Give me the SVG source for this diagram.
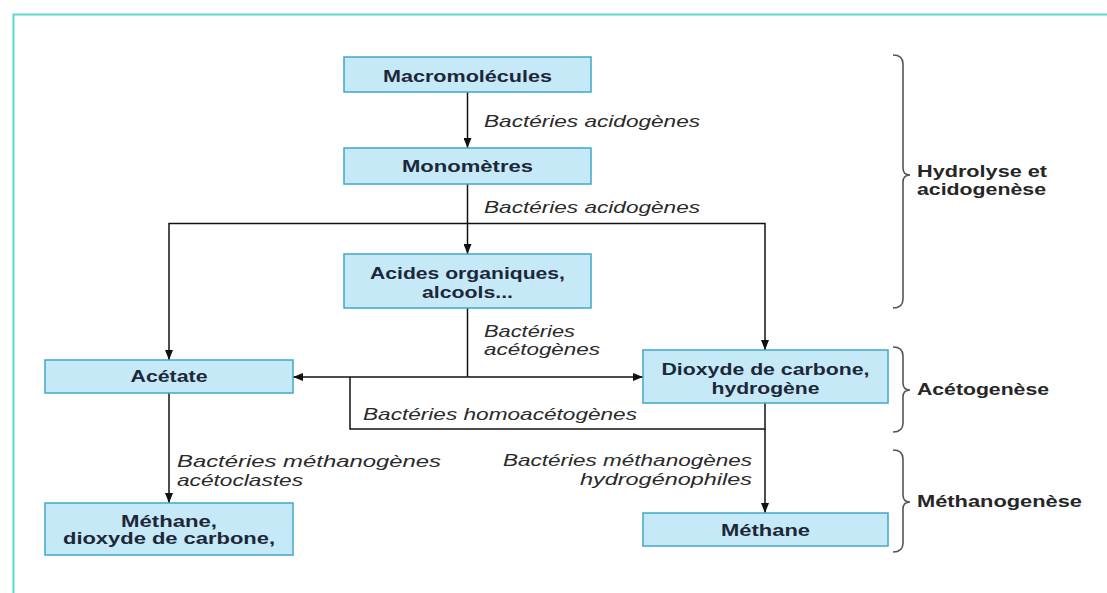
<svg xmlns="http://www.w3.org/2000/svg" width="1107" height="593" viewBox="0 0 1107 593">
  <style>
    .box { fill: #c6e9f8; stroke: #3fa8c8; stroke-width: 1.5; }
    .nt { font-family: "Liberation Sans", Arial, sans-serif; font-weight: bold; font-size: 17px; fill: #1c2838; text-anchor: middle; }
    .lb { font-family: "Liberation Sans", Arial, sans-serif; font-style: italic; font-size: 17px; fill: #2a2a2a; }
    .lbr { text-anchor: end; }
    .ph { font-family: "Liberation Sans", Arial, sans-serif; font-weight: bold; font-size: 16px; fill: #262626; }
    .wire { fill: none; stroke: #111; stroke-width: 1.5; }
    .arrow { marker-end: url(#head); }
    .brace { fill: none; stroke: #555; stroke-width: 1.6; }
  </style>
  <defs>
    <marker id="head" viewBox="0 0 10 8" refX="10" refY="4" markerWidth="10" markerHeight="8" markerUnits="userSpaceOnUse" orient="auto">
      <path d="M0,0 L10,4 L0,8 Z" fill="#111"/>
    </marker>
  </defs>

  <rect width="1107" height="593" fill="#ffffff"/>
  <!-- outer frame (top and left edges) -->
  <path d="M13.5,593 V14.5 H1107" fill="none" stroke="#5cd8d0" stroke-width="2"/>

  <!-- connectors -->
  <g id="connectors">
    <path class="wire arrow" d="M467.5,92 V148"/>
    <path class="wire arrow" d="M467.5,184 V254"/>
    <path class="wire arrow" d="M467.5,223.5 H169 V360"/>
    <path class="wire arrow" d="M467.5,223.5 H765 V350"/>
    <path class="wire" d="M467.5,308 V377"/>
    <path class="wire arrow" d="M467.5,377 H293"/>
    <path class="wire arrow" d="M467.5,377 H643"/>
    <path class="wire" d="M765,403 V429 H350 V377"/>
    <path class="wire arrow" d="M765,429 V513"/>
    <path class="wire arrow" d="M169,393 V503"/>

    <text class="lb" x="484" y="127" textLength="216" lengthAdjust="spacingAndGlyphs">Bactéries acidogènes</text>
    <text class="lb" x="484" y="213" textLength="216" lengthAdjust="spacingAndGlyphs">Bactéries acidogènes</text>
    <text class="lb" x="484" y="337" textLength="91" lengthAdjust="spacingAndGlyphs">Bactéries</text>
    <text class="lb" x="484" y="355" textLength="116" lengthAdjust="spacingAndGlyphs">acétogènes</text>
    <text class="lb" x="363" y="420" textLength="274" lengthAdjust="spacingAndGlyphs">Bactéries homoacétogènes</text>
    <text class="lb" x="177" y="467" textLength="264" lengthAdjust="spacingAndGlyphs">Bactéries méthanogènes</text>
    <text class="lb" x="177" y="486" textLength="126" lengthAdjust="spacingAndGlyphs">acétoclastes</text>
    <text class="lb lbr" x="752" y="466" textLength="249" lengthAdjust="spacingAndGlyphs">Bactéries méthanogènes</text>
    <text class="lb lbr" x="752" y="485" textLength="172" lengthAdjust="spacingAndGlyphs">hydrogénophiles</text>
  </g>

  <!-- nodes -->
  <g id="macromolecules">
    <rect class="box" x="344" y="57" width="247" height="35"/>
    <text class="nt" x="467.5" y="82" textLength="169" lengthAdjust="spacingAndGlyphs">Macromolécules</text>
  </g>
  <g id="monometres">
    <rect class="box" x="344" y="148" width="247" height="36"/>
    <text class="nt" x="467.5" y="172" textLength="131" lengthAdjust="spacingAndGlyphs">Monomètres</text>
  </g>
  <g id="acides">
    <rect class="box" x="344" y="254" width="247" height="54"/>
    <text class="nt" x="467.5" y="279" textLength="195" lengthAdjust="spacingAndGlyphs">Acides organiques,</text>
    <text class="nt" x="467.5" y="298" textLength="91" lengthAdjust="spacingAndGlyphs">alcools...</text>
  </g>
  <g id="acetate">
    <rect class="box" x="45" y="360" width="248" height="33"/>
    <text class="nt" x="169" y="382" textLength="77" lengthAdjust="spacingAndGlyphs">Acétate</text>
  </g>
  <g id="dioxyde">
    <rect class="box" x="643" y="350" width="245" height="53"/>
    <text class="nt" x="765.5" y="375" textLength="208" lengthAdjust="spacingAndGlyphs">Dioxyde de carbone,</text>
    <text class="nt" x="765.5" y="394" textLength="108" lengthAdjust="spacingAndGlyphs">hydrogène</text>
  </g>
  <g id="methane-co2">
    <rect class="box" x="45" y="503" width="248" height="52"/>
    <text class="nt" x="169" y="527" textLength="96" lengthAdjust="spacingAndGlyphs">Méthane,</text>
    <text class="nt" x="169" y="544" textLength="212" lengthAdjust="spacingAndGlyphs">dioxyde de carbone,</text>
  </g>
  <g id="methane">
    <rect class="box" x="643" y="513" width="245" height="33"/>
    <text class="nt" x="765.5" y="536" textLength="89" lengthAdjust="spacingAndGlyphs">Méthane</text>
  </g>

  <!-- phase braces -->
  <g id="phase-hydrolyse">
    <path class="brace" d="M893,55 Q903,55 903,64 V168 Q903,175 910,175 Q903,175 903,182 V299 Q903,308 893,308"/>
    <text class="ph" x="917" y="177" textLength="130" lengthAdjust="spacingAndGlyphs">Hydrolyse et</text>
    <text class="ph" x="917" y="195" textLength="129" lengthAdjust="spacingAndGlyphs">acidogenèse</text>
  </g>
  <g id="phase-acetogenese">
    <path class="brace" d="M893,347 Q903,347 903,356 V383 Q903,390 910,390 Q903,390 903,397 V423 Q903,432 893,432"/>
    <text class="ph" x="917" y="395" textLength="132" lengthAdjust="spacingAndGlyphs">Acétogenèse</text>
  </g>
  <g id="phase-methanogenese">
    <path class="brace" d="M893,450 Q903,450 903,459 V495 Q903,502 910,502 Q903,502 903,509 V543 Q903,552 893,552"/>
    <text class="ph" x="917" y="507" textLength="165" lengthAdjust="spacingAndGlyphs">Méthanogenèse</text>
  </g>
</svg>
